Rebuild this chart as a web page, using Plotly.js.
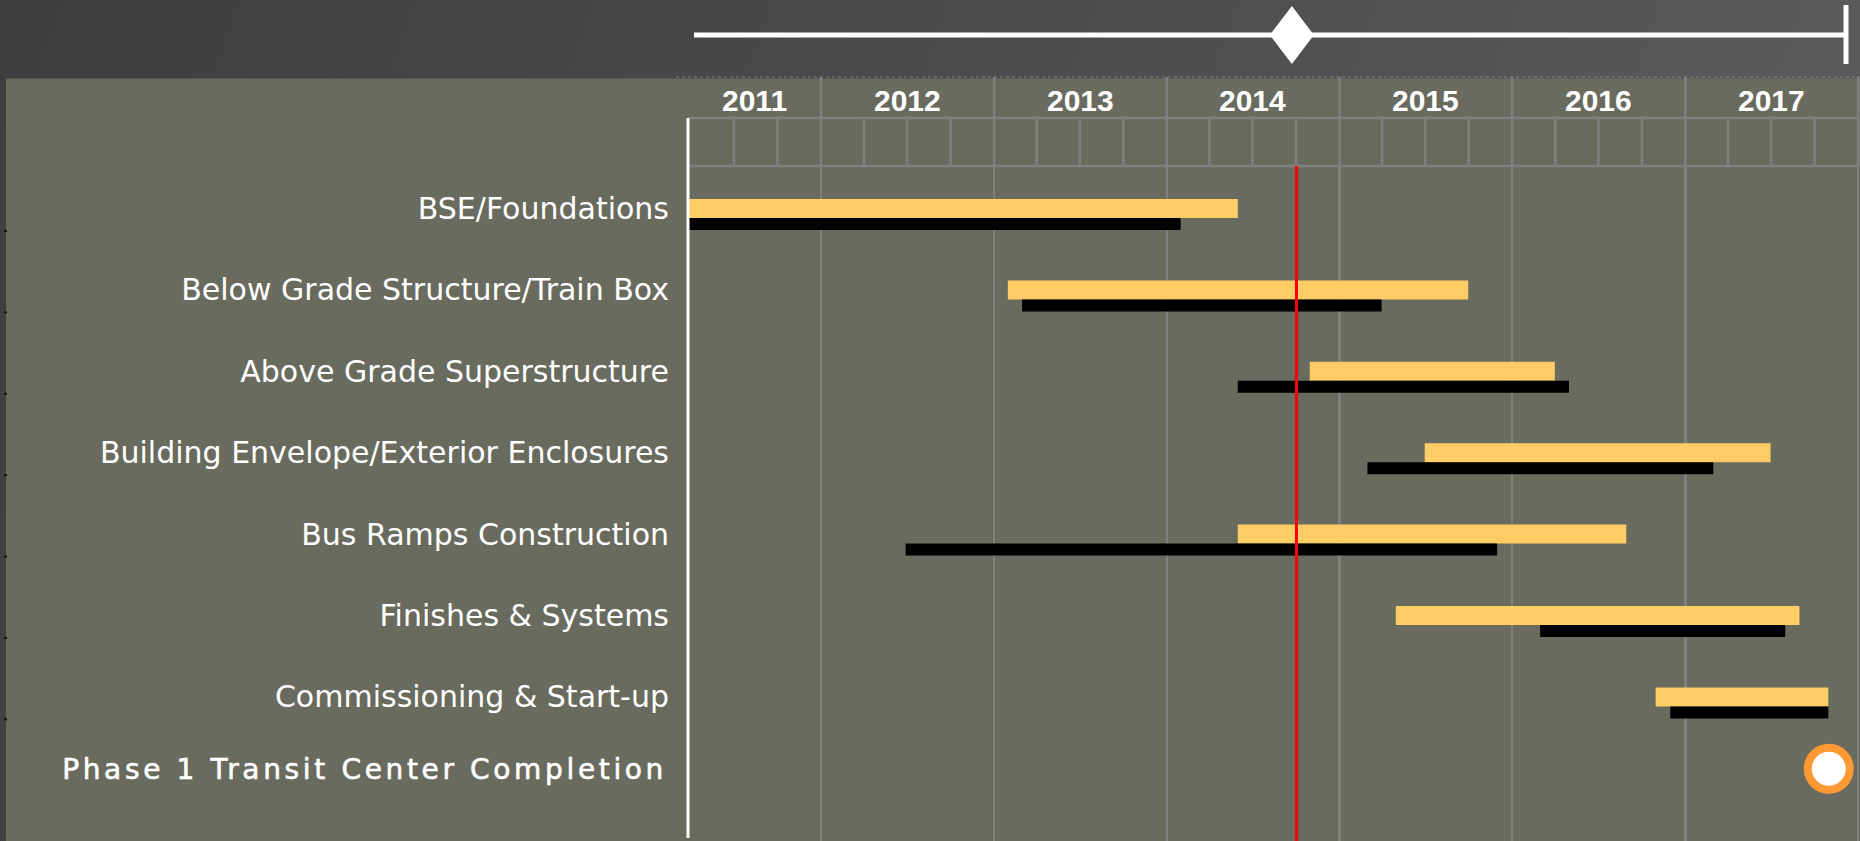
<!DOCTYPE html>
<html>
<head>
<meta charset="utf-8">
<script src="https://cdn.plot.ly/plotly-3.0.1.min.js"></script>
<style>
  html, body { margin: 0; padding: 0; }
  body { width: 1860px; height: 841px; overflow: hidden;
         background: linear-gradient(110deg, #3e3e3e 0%, #4b4b4b 45%, #5f5f5f 100%); }
  #chart { width: 1860px; height: 841px; }
</style>
</head>
<body>
<div id="chart"></div>
<script>
// ---------------- DATA ----------------
const categories = [
  'BSE/Foundations',
  'Below Grade Structure/Train Box',
  'Above Grade Superstructure',
  'Building Envelope/Exterior Enclosures',
  'Bus Ramps Construction',
  'Finishes & Systems',
  'Commissioning & Start-up'
];
// yellow bars (current schedule)
const scheduleStart = ['2011-03-26', '2013-01-30', '2014-10-30', '2015-06-30', '2014-05-31', '2015-04-30', '2016-10-30'];
const scheduleEnd   = ['2014-05-31', '2015-09-30', '2016-03-31', '2017-06-30', '2016-08-29', '2017-08-30', '2017-10-30'];
// black bars (baseline schedule)
const baselineStart = ['2011-03-26', '2013-03-01', '2014-05-31', '2015-03-01', '2012-06-28', '2016-02-29', '2016-11-30'];
const baselineEnd   = ['2014-01-30', '2015-03-31', '2016-04-30', '2017-03-01', '2015-11-30', '2017-07-31', '2017-10-30'];

const milestoneLabel = 'Phase 1 Transit Center Completion';
const milestoneDate = '2017-10-31';
const todayDate = '2014-10-02';

const years = ['2011', '2012', '2013', '2014', '2015', '2016', '2017'];
const axisStart = '2011-03-26';
const axisEnd = '2018-01-05';

// ---------------- LAYOUT HELPERS ----------------
const L = 688, T = 166, W = 1172, H = 675;
const fx = px => (px - L) / W;          // page px -> paper x
const fy = py => (T + H - py) / H;      // page py -> paper y
const ROW = 81.4;                       // px per category
const GRID = '#808080';
const OLIVE = '#696b5e';

const ms = d => new Date(d + 'T00:00:00Z').getTime();
const idx = categories.map((_, i) => i);

const yellowW = 19 / ROW, blackW = 12 / ROW;

const traces = [
  {
    type: 'bar', orientation: 'h', name: 'Schedule',
    y: idx,
    base: scheduleStart,
    x: scheduleStart.map((s, i) => ms(scheduleEnd[i]) - ms(s)),
    width: yellowW, offset: -yellowW / 2,
    marker: { color: '#ffcc66', line: { width: 0 } },
    hoverinfo: 'skip'
  },
  {
    type: 'bar', orientation: 'h', name: 'Baseline',
    y: idx,
    base: baselineStart,
    x: baselineStart.map((s, i) => ms(baselineEnd[i]) - ms(s)),
    width: blackW, offset: yellowW / 2,
    marker: { color: '#000000', line: { width: 0 } },
    hoverinfo: 'skip'
  },
  {
    type: 'scatter', mode: 'markers', name: 'Milestone',
    x: [milestoneDate], y: [categories.length], yaxis: 'y2',
    marker: { size: 42, color: '#ffffff', line: { color: '#ff9933', width: 8 } },
    cliponaxis: false, hoverinfo: 'skip'
  }
];

// ---------------- SHAPES ----------------
const shapes = [];
// olive panel
shapes.push({ type: 'rect', xref: 'paper', yref: 'paper', x0: fx(6), x1: fx(1862), y0: fy(845), y1: fy(78.5),
  fillcolor: OLIVE, line: { width: 0 }, layer: 'below' });
// faint dotted line on top of panel
shapes.push({ type: 'line', xref: 'paper', yref: 'paper', x0: fx(676), x1: fx(1860), y0: fy(77), y1: fy(77),
  line: { color: 'rgba(150,150,150,0.7)', width: 1, dash: 'dot' } });
// header horizontal lines
[118, 166].forEach(py => shapes.push({ type: 'line', xref: 'paper', yref: 'paper', x0: fx(688), x1: fx(1858),
  y0: fy(py), y1: fy(py), line: { color: GRID, width: 2.5 } }));
// year separators in header
years.forEach(y => {
  const d = (+y + 1) + '-01-01';
  shapes.push({ type: 'line', xref: 'x', yref: 'paper', x0: d, x1: d, y0: 1, y1: fy(77),
    line: { color: GRID, width: 2.5 } });
  ['04', '07', '10'].forEach(m => {
    const q = y + '-' + m + '-01';
    if (ms(q) - ms(axisStart) > 10 * 86400000) {
      shapes.push({ type: 'line', xref: 'x', yref: 'paper', x0: q, x1: q, y0: 1, y1: fy(118),
        line: { color: GRID, width: 2.5 } });
    }
  });
});
// white left border of the plot
shapes.push({ type: 'line', xref: 'paper', yref: 'paper', x0: 0, x1: 0, y0: fy(838), y1: fy(118),
  line: { color: '#ffffff', width: 3 } });
// small row ticks at the far left
idx.forEach(i => shapes.push({ type: 'line', xref: 'paper', yref: 'y', x0: fx(4), x1: fx(7),
  y0: i + 0.276, y1: i + 0.276, line: { color: '#111111', width: 2 } }));
// today line
shapes.push({ type: 'line', xref: 'x', yref: 'paper', x0: todayDate, x1: todayDate, y0: 0, y1: 1,
  line: { color: '#ff0000', width: 3 }, layer: 'above' });
// timeline slider
shapes.push({ type: 'line', xref: 'paper', yref: 'paper', x0: fx(694), x1: fx(1846), y0: fy(35), y1: fy(35),
  line: { color: '#ffffff', width: 5 } });
shapes.push({ type: 'line', xref: 'paper', yref: 'paper', x0: fx(1846), x1: fx(1846), y0: fy(5), y1: fy(64),
  line: { color: '#ffffff', width: 5 } });
shapes.push({ type: 'path', xref: 'x', xsizemode: 'pixel', xanchor: todayDate,
  yref: 'paper', ysizemode: 'pixel', yanchor: fy(35),
  path: 'M-26.6,0 L-4.6,29 L17.4,0 L-4.6,-29 Z',
  fillcolor: '#ffffff', line: { width: 0 } });

// ---------------- YEAR LABELS ----------------
const annotations = years.map(y => {
  const a = Math.max(ms(y + '-01-01'), ms(axisStart));
  const b = Math.min(ms((+y + 1) + '-01-01'), ms(axisEnd));
  const mid = new Date((a + b) / 2).toISOString().slice(0, 10);
  return { xref: 'x', yref: 'paper', x: mid, y: fy(100), text: y, showarrow: false,
    xanchor: 'center', yanchor: 'middle',
    font: { family: 'Liberation Sans, Arial, sans-serif', size: 30, color: '#ffffff', weight: 'bold' } };
});

const top0 = 42.5 / ROW;          // units from plot top to first row
const span = H / ROW;
const msTop = categories.length - (602.7 / ROW);

const layout = {
  width: 1860, height: 841,
  margin: { l: L, r: 1860 - L - W, t: T, b: 0 },
  paper_bgcolor: 'rgba(0,0,0,0)',
  plot_bgcolor: OLIVE,
  showlegend: false,
  barmode: 'overlay',
  xaxis: {
    type: 'date', range: [axisStart, axisEnd],
    showgrid: true, gridcolor: GRID, gridwidth: 2.5,
    tick0: '2012-01-01', dtick: 'M12',
    showticklabels: false, ticks: '', zeroline: false, showline: false, fixedrange: true
  },
  yaxis: {
    range: [span - top0, -top0],
    tickmode: 'array', tickvals: idx, ticktext: categories,
    tickfont: { family: 'DejaVu Sans, sans-serif', size: 30, color: '#ffffff' },
    ticks: '', ticklabelstandoff: 18, ticklabelshift: -5.1,
    showgrid: false, zeroline: false, showline: false, fixedrange: true
  },
  yaxis2: {
    overlaying: 'y', side: 'left', anchor: 'x',
    range: [span + msTop, msTop],
    tickmode: 'array', tickvals: [categories.length],
    ticktext: ['<span style="letter-spacing:3.65px;stroke:#ffffff;stroke-width:0.6px">' + milestoneLabel + '</span>'],
    tickfont: { family: 'DejaVu Sans, sans-serif', size: 28, color: '#ffffff' },
    ticks: '', ticklabelstandoff: 20, ticklabelshift: -1.5,
    showgrid: false, zeroline: false, showline: false, fixedrange: true
  },
  shapes: shapes,
  annotations: annotations
};

Plotly.newPlot('chart', traces, layout, { displayModeBar: false, staticPlot: true });
</script>
</body>
</html>
